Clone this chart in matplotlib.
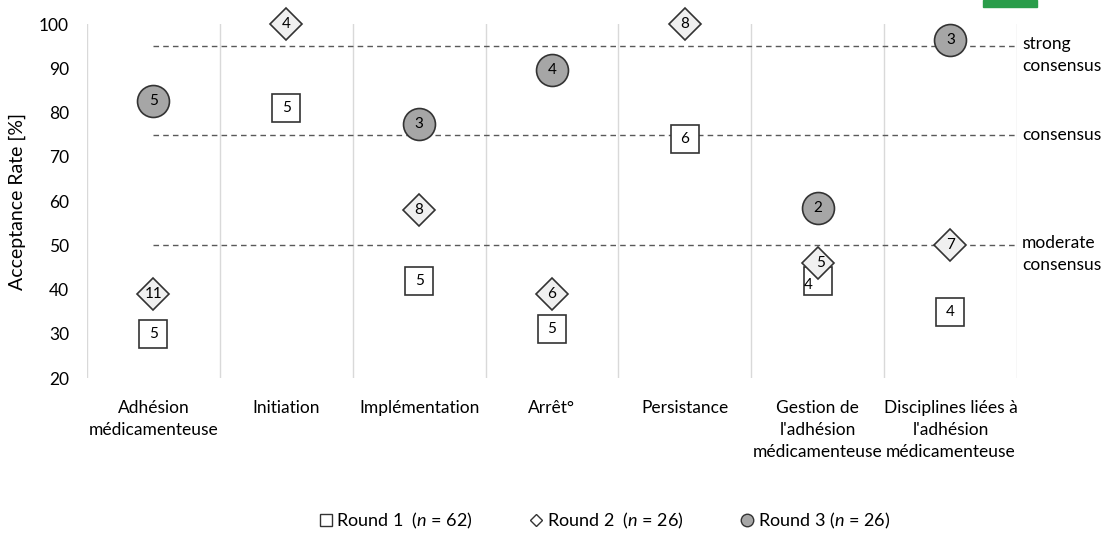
import matplotlib.pyplot as plt
from matplotlib.lines import Line2D
import matplotlib.patches as mpatches

plt.rcParams['font.family'] = ['Lato', 'DejaVu Sans']
plt.rcParams['mathtext.fontset'] = 'custom'
plt.rcParams['mathtext.it'] = 'Lato:italic'
plt.rcParams['mathtext.rm'] = 'Lato'

categories = ['Adhésion\nmédicamenteuse', 'Initiation', 'Implémentation', 'Arrêt°',
              'Persistance', 'Gestion de\nl\'adhésion\nmédicamenteuse',
              'Disciplines liées à\nl\'adhésion\nmédicamenteuse']

# acceptance rate [%] and number of items per round (None = not assessed)
round1_rate = [30, 81, 42, 31, 74, 42, 35]
round1_n = [5, 5, 5, 5, 6, 4, 4]
round2_rate = [39, 100, 58, 39, 100, 46, 50]
round2_n = [11, 4, 8, 6, 8, 5, 7]
round3_rate = [82.5, None, 77.5, 89.5, None, 58.5, 96.5]
round3_n = [5, None, 3, 4, None, 2, 3]

thresholds = [95, 75, 50]
threshold_labels = ['strong\nconsensus', 'consensus', 'moderate\nconsensus']

fig = plt.figure(figsize=(11.07, 5.34), dpi=100)
ax = fig.add_axes([0.0786, 0.292, 0.840, 0.663])

x = list(range(len(categories)))
ax.set_xlim(-0.5, len(categories) - 0.5)
ax.set_ylim(20, 100)

# vertical separators
for b in range(len(categories) + 1):
    ax.axvline(b - 0.5, color='#d9d9d9', lw=1, zorder=0)

# consensus thresholds
for t in thresholds:
    ax.plot([0, len(categories) - 0.5], [t, t], ls=(0, (4, 3)), color='#595959', lw=1, zorder=1)
ax.text(6.54, 97.2, threshold_labels[0], fontsize=12.5, va='top', ha='left', linespacing=1.45)
ax.text(6.54, 75, threshold_labels[1], fontsize=12.5, va='center', ha='left')
ax.text(6.54, 52.4, threshold_labels[2], fontsize=12.5, va='top', ha='left', linespacing=1.45)

edge = '#333333'
# round 1 squares
for i in x:
    ax.plot(i, round1_rate[i], marker='s', ms=20, mfc='white', mec=edge, mew=1.2,
            ls='none', zorder=3, clip_on=False)
# round 2 diamonds
for i in x:
    ax.plot(i, round2_rate[i], marker='D', ms=16, mfc='#f0f0f0', mec=edge, mew=1.2,
            ls='none', zorder=4, clip_on=False)
# round 3 circles
for i in x:
    if round3_rate[i] is not None:
        ax.plot(i, round3_rate[i], marker='o', ms=23, mfc='#a6a6a6', mec=edge, mew=1.2,
                ls='none', zorder=5, clip_on=False)

# counts inside markers
for i in x:
    dx = -0.07 if i == 5 else 0
    dy = 1.0 if i == 5 else 0
    ax.text(i + dx, round1_rate[i] - dy, str(round1_n[i]), ha='center', va='center',
            fontsize=11, zorder=6)
    ax.text(i + (0.02 if i == 5 else 0), round2_rate[i], str(round2_n[i]), ha='center',
            va='center', fontsize=11, zorder=6)
    if round3_rate[i] is not None:
        ax.text(i, round3_rate[i], str(round3_n[i]), ha='center', va='center',
                fontsize=11, zorder=6)

ax.set_yticks(range(20, 101, 10))
ax.set_xticks(x)
ax.set_xticklabels(categories, fontsize=12.5, va='top', linespacing=1.45)
ax.tick_params(axis='y', length=0, pad=13, labelsize=12.5)
ax.tick_params(axis='x', length=0, pad=16)
ax.set_ylabel('Acceptance Rate [%]', fontsize=14, labelpad=9)
for s in ax.spines.values():
    s.set_visible(False)

handles = [
    Line2D([], [], marker='s', ms=9, mfc='white', mec=edge, mew=1, ls='none'),
    Line2D([], [], marker='D', ms=6.5, mfc='white', mec=edge, mew=1, ls='none'),
    Line2D([], [], marker='o', ms=9, mfc='#a6a6a6', mec=edge, mew=1, ls='none'),
]
labels = ['Round 1  ($\\it{n}$ = 62)', 'Round 2  ($\\it{n}$ = 26)', 'Round 3 ($\\it{n}$ = 26)']
fig.legend(handles, labels, loc='center', bbox_to_anchor=(0.545, 0.024), ncol=3,
           frameon=False, fontsize=13, handletextpad=0.1, columnspacing=3.0,
           handlelength=1.0)

# cropped logo fragment in top-right corner
fig.patches.append(mpatches.Rectangle((983 / 1107, 1 - 7 / 534), 54 / 1107, 7 / 534,
                                      transform=fig.transFigure, color='#2a9d4a'))

fig.savefig('out.png', dpi=100)
